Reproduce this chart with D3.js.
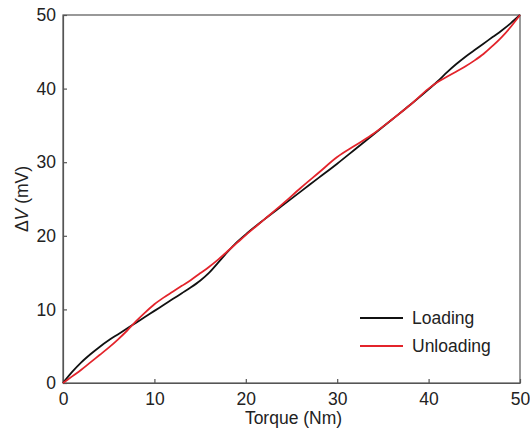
<!DOCTYPE html>
<html>
<head>
<meta charset="utf-8">
<script src="https://cdn.jsdelivr.net/npm/d3@7"></script>
<style>
  html, body { margin: 0; padding: 0; background: #fff; }
  svg { display: block; font-family: "Liberation Sans", Arial, sans-serif; }
</style>
</head>
<body>
<svg id="chart" width="530" height="433"></svg>
<script>
// Torque (Nm) sample points
const loadingTorque = [0,1,2,3,4,5,6,7,8,9,10,11,12,13,14,15,16,17,18,19,20,22,24,26,28,30,32,34,36,38,40,41,42,43,44,45,46,47,48,49,50];
const loadingDV     = [0,1.5,2.8,3.9,4.9,5.8,6.6,7.4,8.2,9.0,9.8,10.6,11.4,12.2,13.0,13.9,15.0,16.4,17.8,19.1,20.2,22.2,24.1,26.0,27.9,29.8,31.8,33.8,35.8,37.8,39.9,41.0,42.2,43.3,44.3,45.2,46.1,47.0,47.9,48.9,50];

const unloadingTorque = [0,1,2,3,4,5,6,7,8,9,10,11,12,13,14,15,16,17,18,19,20,22,24,26,28,30,32,34,36,38,40,41,42,43,44,45,46,47,48,49,50];
const unloadingDV     = [0,0.9,1.8,2.8,3.8,4.8,5.9,7.1,8.4,9.6,10.7,11.6,12.4,13.2,14.0,14.9,15.8,16.8,17.9,19.0,20.1,22.2,24.3,26.5,28.6,30.7,32.3,33.9,35.8,37.8,40.0,40.9,41.6,42.3,43.0,43.8,44.7,45.8,47.0,48.4,50];

const xTicks = [0,10,20,30,40,50];
const yTicks = [0,10,20,30,40,50];

const seriesNames = ["Loading", "Unloading"];
const seriesColors = ["#111111", "#e3242b"];

const svg = d3.select("#chart");
const margin = { left: 63, top: 15, right: 10, bottom: 50 };
const W = 530, H = 433;
const fontSize = 17.5;

const x = d3.scaleLinear().domain([0, 50]).range([margin.left, W - margin.right]);
const y = d3.scaleLinear().domain([0, 50]).range([H - margin.bottom, margin.top]);

const axisColor = "#555";
const textColor = "#222";

// frame
svg.append("rect")
  .attr("x", x(0)).attr("y", y(50))
  .attr("width", x(50) - x(0)).attr("height", y(0) - y(50))
  .attr("fill", "none").attr("stroke", axisColor).attr("stroke-width", 1.2);

// bottom axis, inward ticks
const gx = svg.append("g").attr("transform", `translate(0,${y(0)})`)
  .call(d3.axisBottom(x).tickValues(xTicks).tickSizeInner(-4).tickSizeOuter(0).tickPadding(9.5));
gx.select(".domain").attr("stroke", axisColor).attr("stroke-width", 1.2);
gx.selectAll(".tick line").attr("stroke", axisColor).attr("stroke-width", 1.2);
gx.selectAll("text").attr("font-size", fontSize).attr("fill", textColor)
  .attr("font-family", "Liberation Sans, Arial, sans-serif");

// left axis, inward ticks
const gy = svg.append("g").attr("transform", `translate(${x(0)},0)`)
  .call(d3.axisLeft(y).tickValues(yTicks).tickSizeInner(-4).tickSizeOuter(0).tickPadding(7));
gy.select(".domain").attr("stroke", axisColor).attr("stroke-width", 1.2);
gy.selectAll(".tick line").attr("stroke", axisColor).attr("stroke-width", 1.2);
gy.selectAll("text").attr("font-size", fontSize).attr("fill", textColor)
  .attr("font-family", "Liberation Sans, Arial, sans-serif");

// axis titles
svg.append("text")
  .attr("x", (x(0) + x(50)) / 2 + 2).attr("y", 424)
  .attr("text-anchor", "middle").attr("font-size", fontSize).attr("fill", textColor)
  .text("Torque (Nm)");

const yt = svg.append("text")
  .attr("transform", `translate(28,${(y(0) + y(50)) / 2}) rotate(-90)`)
  .attr("text-anchor", "middle").attr("font-size", fontSize).attr("fill", textColor);
yt.append("tspan").text("Δ");
yt.append("tspan").attr("font-style", "italic").text("V");
yt.append("tspan").text(" (mV)");

// curves
const line = d3.line()
  .x(d => x(d[0])).y(d => y(d[1]))
  .curve(d3.curveMonotoneX);

const series = [
  d3.zip(loadingTorque, loadingDV),
  d3.zip(unloadingTorque, unloadingDV)
];

svg.selectAll("path.series")
  .data(series)
  .join("path")
  .attr("class", "series")
  .attr("d", line)
  .attr("fill", "none")
  .attr("stroke", (d, i) => seriesColors[i])
  .attr("stroke-width", 1.8);

// legend
const legend = svg.append("g").attr("transform", "translate(360,318)");
seriesNames.forEach((name, i) => {
  const g = legend.append("g").attr("transform", `translate(0,${i * 28})`);
  g.append("line").attr("x1", 0).attr("x2", 43).attr("y1", 0).attr("y2", 0)
    .attr("stroke", seriesColors[i]).attr("stroke-width", 1.8);
  g.append("text").attr("x", 52).attr("y", 6)
    .attr("font-size", fontSize).attr("fill", textColor).text(name);
});
</script>
</body>
</html>
